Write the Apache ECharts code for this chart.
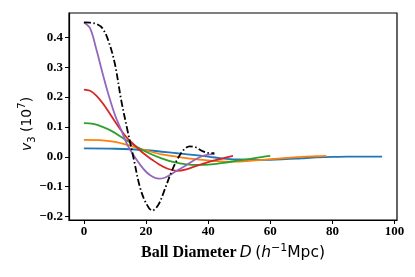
<!DOCTYPE html>
<html><head><meta charset="utf-8">
<script src="https://cdn.jsdelivr.net/npm/echarts@6/dist/echarts.min.js"></script>
<style>html,body{margin:0;padding:0;background:#fff}#c{width:415px;height:277px}</style>
</head><body><div id="c"></div>
<script>
const xTicks = [0, 20, 40, 60, 80, 100];
const yTicks = [-0.2, -0.1, 0.0, 0.1, 0.2, 0.3, 0.4];

const blueX = [0, 10, 20, 30, 40, 45, 50, 55, 60, 65, 70, 75, 80, 85, 90, 96];
const blueY = [0.028, 0.027, 0.022, 0.012, 0.001, -0.006, -0.009, -0.010, -0.010, -0.008, -0.005, -0.002, 0.000, 0.001, 0.001, 0.001];

const orangeX = [0, 5, 10, 15, 20, 25, 30, 35, 40, 45, 50, 55, 60, 65, 70, 75, 78];
const orangeY = [0.057, 0.056, 0.050, 0.037, 0.022, 0.008, 0.000, -0.007, -0.012, -0.016, -0.016, -0.012, -0.008, -0.004, 0.000, 0.002, 0.003];

const greenX = [0, 3, 6, 9, 13, 17, 21, 25, 29, 33, 37, 41, 45, 50, 55, 60];
const greenY = [0.113, 0.110, 0.100, 0.086, 0.060, 0.034, 0.012, -0.005, -0.018, -0.025, -0.027, -0.025, -0.020, -0.012, -0.004, 0.003];

const redX = [0, 2, 4, 6, 8, 10, 12, 14, 16, 18, 20, 22, 24, 27, 30, 33, 36, 39, 42, 45, 48];
const redY = [0.225, 0.221, 0.205, 0.180, 0.150, 0.118, 0.088, 0.062, 0.042, 0.022, 0.005, -0.010, -0.024, -0.040, -0.047, -0.042, -0.031, -0.021, -0.012, -0.004, 0.003];

const purpleX = [0, 2, 4, 6, 8, 10, 12, 14, 16, 18, 20, 22, 24, 26, 28, 30, 32, 34, 36, 38, 40, 42];
const purpleY = [0.450, 0.430, 0.360, 0.280, 0.205, 0.140, 0.090, 0.040, 0.005, -0.025, -0.050, -0.066, -0.073, -0.070, -0.059, -0.046, -0.034, -0.021, -0.008, 0.002, 0.007, 0.009];

const blackX = [0, 2, 4, 6, 8, 10, 12, 14, 16, 18, 20, 22, 24, 26, 28, 30, 32, 34, 36, 38, 40, 42];
const blackY = [0.450, 0.449, 0.445, 0.430, 0.385, 0.310, 0.190, 0.090, -0.005, -0.100, -0.155, -0.180, -0.160, -0.110, -0.055, -0.010, 0.022, 0.035, 0.032, 0.020, 0.013, 0.012];

const zip = (xs, ys) => xs.map((x, i) => [x, ys[i]]);
const serif = '"Liberation Serif", "Times New Roman", serif';
const sans = '"DejaVu Sans", sans-serif';

function line(name, xs, ys, color, type, width) {
  return {
    name, type: 'line', data: zip(xs, ys), showSymbol: false, symbol: 'none',
    smooth: 0.35, animation: false,
    lineStyle: { color, width: width || 1.8, type: type || 'solid' }
  };
}

const chart = echarts.init(document.getElementById('c'), null, { renderer: 'canvas' });
chart.setOption({
  animation: false,
  backgroundColor: '#fff',
  grid: { left: 69, right: 18, top: 13, bottom: 57, show: true, borderColor: '#000', borderWidth: 1.2, backgroundColor: 'transparent' },
  graphic: [{
    type: 'text', x: 27, y: 124, rotation: Math.PI / 2, silent: true,
    style: {
      text: '{i|v}{d|3}{n| (10}{s|7}{n|)}',
      align: 'center', verticalAlign: 'middle', fill: '#000',
      rich: {
        i: { fontFamily: sans, fontStyle: 'italic', fontSize: 14, fill: '#000', lineHeight: 20, verticalAlign: 'middle' },
        n: { fontFamily: sans, fontSize: 14, fill: '#000', lineHeight: 20, verticalAlign: 'middle' },
        d: { fontFamily: sans, fontSize: 10, fill: '#000', verticalAlign: 'bottom' },
        s: { fontFamily: sans, fontSize: 10, fill: '#000', verticalAlign: 'top' }
      }
    }
  }],
  xAxis: {
    type: 'value', min: -4.8, max: 100.8,
    axisLine: { show: true, onZero: false, lineStyle: { color: '#000', width: 1.2 } },
    axisTick: { show: true, length: 4, lineStyle: { color: '#000', width: 1 }, customValues: xTicks },
    axisLabel: { customValues: xTicks, color: '#000', fontFamily: serif, fontWeight: 'bold', fontSize: 13, margin: 5 },
    splitLine: { show: false },
    name: '{b|Ball Diameter} {i|D} {n|(}{i|h}{s|−1}{n|Mpc)}',
    nameLocation: 'middle', nameGap: 23,
    nameTextStyle: {
      color: '#000',
      rich: {
        b: { fontFamily: serif, fontWeight: 'bold', fontSize: 16, color: '#000', lineHeight: 20, verticalAlign: 'middle' },
        i: { fontFamily: sans, fontStyle: 'italic', fontSize: 15.5, color: '#000', lineHeight: 20, verticalAlign: 'middle' },
        n: { fontFamily: sans, fontSize: 15.5, color: '#000', lineHeight: 20, verticalAlign: 'middle' },
        s: { fontFamily: sans, fontSize: 11, color: '#000', verticalAlign: 'top' }
      }
    }
  },
  yAxis: {
    type: 'value', min: -0.2115, max: 0.4815,
    axisLine: { show: true, onZero: false, lineStyle: { color: '#000', width: 1.2 } },
    axisTick: { show: true, length: 4, lineStyle: { color: '#000', width: 1 }, customValues: yTicks },
    axisLabel: { customValues: yTicks, color: '#000', fontFamily: serif, fontWeight: 'bold', fontSize: 13, margin: 6,
      formatter: v => v.toFixed(1).replace('-', '\u2212') },
    splitLine: { show: false }
  },
  series: [
    line('blue', blueX, blueY, '#1f77b4'),
    line('orange', orangeX, orangeY, '#ff7f0e'),
    line('green', greenX, greenY, '#2ca02c'),
    line('red', redX, redY, '#d62728'),
    line('purple', purpleX, purpleY, '#9467bd'),
    line('black', blackX, blackY, '#000', [7, 2.5, 1.5, 2.5], 1.8)
  ]
});
</script></body></html>
